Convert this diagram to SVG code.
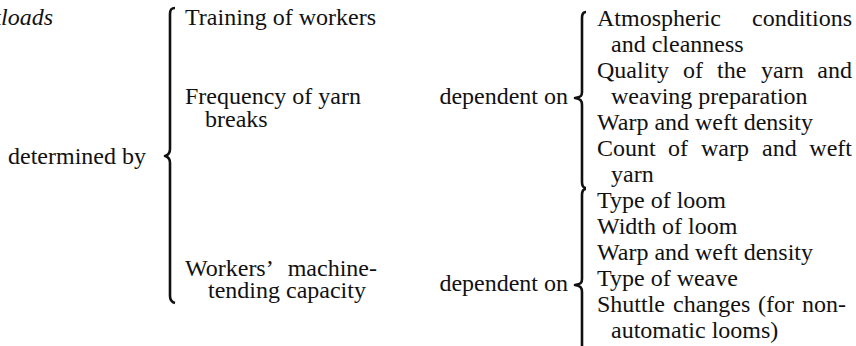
<svg xmlns="http://www.w3.org/2000/svg" width="856" height="346" viewBox="0 0 856 346">
  <rect width="856" height="346" fill="#fff"/>

  <!-- Title (runs off the left edge) -->
  <g id="workloads">
    <text x="53" y="25" font-family="Liberation Serif" font-size="24" fill="#111" font-style="italic" text-anchor="end">Workloads</text>
  </g>

  <g id="determined-by">
    <text x="8" y="164" font-family="Liberation Serif" font-size="24" fill="#111">determined by</text>
  </g>

  <!-- Determining factors -->
  <g id="training">
    <text x="185" y="25" font-family="Liberation Serif" font-size="24" fill="#111">Training of workers</text>
  </g>
  <g id="yarn-breaks">
    <text x="185" y="104" font-family="Liberation Serif" font-size="24" fill="#111">Frequency of yarn</text>
    <text x="205" y="127" font-family="Liberation Serif" font-size="24" fill="#111">breaks</text>
  </g>
  <g id="machine-tending">
    <text x="185" y="276" font-family="Liberation Serif" font-size="24" fill="#111">Workers’</text>
    <text x="377" y="276" font-family="Liberation Serif" font-size="24" fill="#111" text-anchor="end">machine-</text>
    <text x="208" y="298" font-family="Liberation Serif" font-size="24" fill="#111">tending capacity</text>
  </g>

  <g id="dependent-on-1">
    <text x="568" y="104" font-family="Liberation Serif" font-size="24" fill="#111" text-anchor="end">dependent on</text>
  </g>
  <g id="dependent-on-2">
    <text x="568" y="291" font-family="Liberation Serif" font-size="24" fill="#111" text-anchor="end">dependent on</text>
  </g>

  <!-- Influences on yarn breaks -->
  <g id="breaks-factors">
    <text x="597" y="26" font-family="Liberation Serif" font-size="24" fill="#111">Atmospheric</text>
    <text x="852" y="26" font-family="Liberation Serif" font-size="24" fill="#111" text-anchor="end">conditions</text>
    <text x="611" y="52" font-family="Liberation Serif" font-size="24" fill="#111">and cleanness</text>
    <text y="78" font-family="Liberation Serif" font-size="24" fill="#111"><tspan x="597">Quality</tspan><tspan x="683">of</tspan><tspan x="717">the</tspan><tspan x="761">yarn</tspan></text>
    <text x="852" y="78" font-family="Liberation Serif" font-size="24" fill="#111" text-anchor="end">and</text>
    <text x="611" y="104" font-family="Liberation Serif" font-size="24" fill="#111">weaving preparation</text>
    <text x="597" y="130" font-family="Liberation Serif" font-size="24" fill="#111">Warp and weft density</text>
    <text y="156" font-family="Liberation Serif" font-size="24" fill="#111"><tspan x="597">Count</tspan><tspan x="668">of</tspan><tspan x="701">warp</tspan><tspan x="762">and</tspan></text>
    <text x="852" y="156" font-family="Liberation Serif" font-size="24" fill="#111" text-anchor="end">weft</text>
    <text x="611" y="182" font-family="Liberation Serif" font-size="24" fill="#111">yarn</text>
  </g>

  <!-- Influences on machine-tending capacity -->
  <g id="tending-factors">
    <text x="597" y="208" font-family="Liberation Serif" font-size="24" fill="#111">Type of loom</text>
    <text x="597" y="234" font-family="Liberation Serif" font-size="24" fill="#111">Width of loom</text>
    <text x="597" y="260" font-family="Liberation Serif" font-size="24" fill="#111">Warp and weft density</text>
    <text x="597" y="286" font-family="Liberation Serif" font-size="24" fill="#111">Type of weave</text>
    <text y="312" font-family="Liberation Serif" font-size="24" fill="#111"><tspan x="597">Shuttle</tspan><tspan x="673">changes</tspan><tspan x="758">(for</tspan></text>
    <text x="846" y="312" font-family="Liberation Serif" font-size="24" fill="#111" text-anchor="end">non-</text>
    <text x="611" y="338" font-family="Liberation Serif" font-size="24" fill="#111">automatic looms)</text>
  </g>

  <!-- Braces -->
  <g id="connectors" fill="none" stroke="#111" stroke-width="2.6" stroke-linejoin="round">
    <path d="M175,8 C171,8 170,10 170,14 L170,149 C170,153 169,155 165,156 C169,157 170,159 170,163 L170,296 C170,300 171,302 175,303"/>
    <path d="M586,12 C583,12 582,14 582,18 L582,92 C582,96 581,97 575,98 C581,99 582,101 582,105 L582,182 C582,186 583,188 586,188"/>
    <path d="M586,189 C583,189 582,191 582,195 L582,279 C582,283 581,284 575,285 C581,286 582,288 582,292 L582,346"/>
  </g>
</svg>
